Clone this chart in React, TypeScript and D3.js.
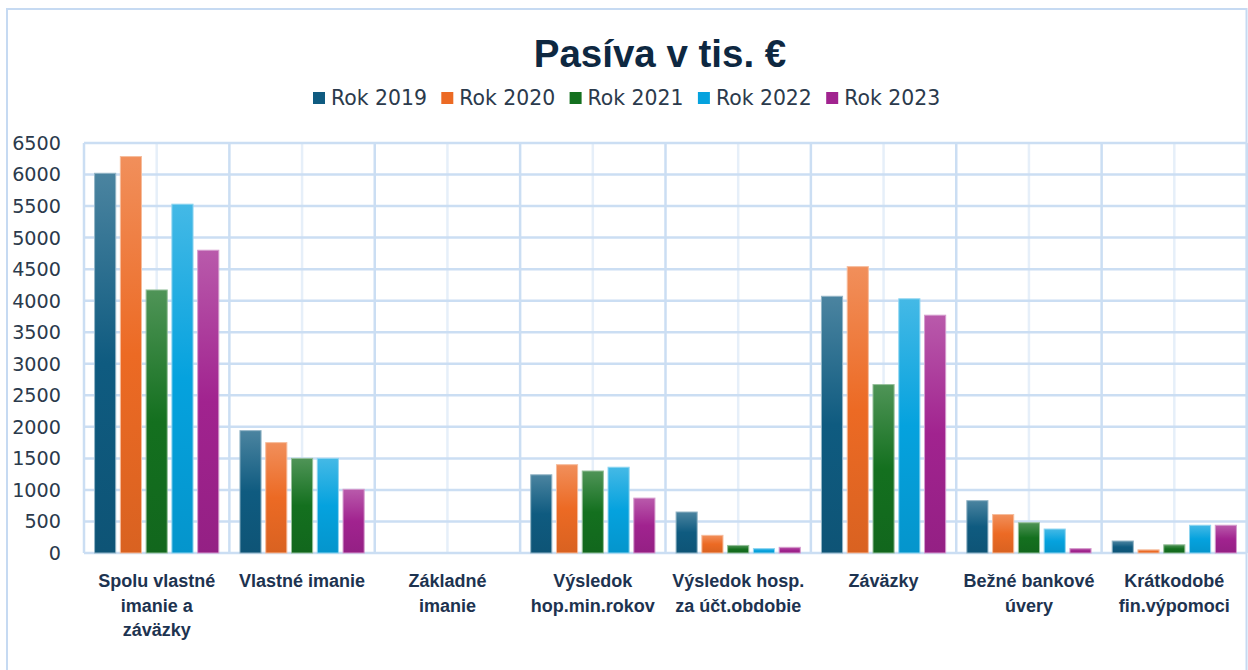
import React, { useEffect, useRef } from 'react';
import * as d3 from 'd3';

// Chart data (tis. €)
const categories = [
  'Spolu vlastné imanie a záväzky',
  'Vlastné imanie',
  'Základné imanie',
  'Výsledok hop.min.rokov',
  'Výsledok hosp. za účt.obdobie',
  'Záväzky',
  'Bežné bankové úvery',
  'Krátkodobé fin.výpomoci',
];
// wrapped the way the category axis breaks them
const categoryLines = [
  ['Spolu vlastné', 'imanie a', 'záväzky'],
  ['Vlastné imanie'],
  ['Základné', 'imanie'],
  ['Výsledok', 'hop.min.rokov'],
  ['Výsledok hosp.', 'za účt.obdobie'],
  ['Záväzky'],
  ['Bežné bankové', 'úvery'],
  ['Krátkodobé', 'fin.výpomoci'],
];
const seriesNames = ['Rok 2019', 'Rok 2020', 'Rok 2021', 'Rok 2022', 'Rok 2023'];
const rok2019 = [6020, 1940, 0, 1240, 650, 4070, 830, 190];
const rok2020 = [6285, 1750, 0, 1400, 280, 4540, 610, 50];
const rok2021 = [4170, 1500, 0, 1300, 120, 2670, 480, 130];
const rok2022 = [5530, 1500, 0, 1360, 70, 4030, 380, 440];
const rok2023 = [4800, 1010, 0, 870, 90, 3770, 70, 440];
const seriesValues = [rok2019, rok2020, rok2021, rok2022, rok2023];
const yTicks = [0, 500, 1000, 1500, 2000, 2500, 3000, 3500, 4000, 4500, 5000, 5500, 6000, 6500];

const seriesColors = ['#0f5b80', '#ec6a24', '#14701f', '#05a2de', '#a1238f'];

const WIDTH = 1248;
const HEIGHT = 670;
const margin = { top: 143, right: 1, bottom: 117, left: 84 };

const App: React.FC = () => {
  const svgRef = useRef<SVGSVGElement>(null);

  useEffect(() => {
    if (!svgRef.current) return;
    const svg = d3.select(svgRef.current);
    svg.selectAll('*').remove();

    const innerW = WIDTH - margin.left - margin.right;
    const innerH = HEIGHT - margin.top - margin.bottom;

    const x0 = d3.scaleBand<string>()
      .domain(categories)
      .range([margin.left, margin.left + innerW])
      .paddingInner(0)
      .paddingOuter(0);

    const x1 = d3.scaleBand<string>()
      .domain(seriesNames)
      .range([0, x0.bandwidth()])
      .paddingInner(0.18)
      .paddingOuter(0.41);

    const y = d3.scaleLinear()
      .domain([0, 6500])
      .range([margin.top + innerH, margin.top]);

    // frame
    svg.append('rect')
      .attr('x', 7)
      .attr('y', 9)
      .attr('width', 1239.5)
      .attr('height', 680)
      .attr('fill', '#ffffff')
      .attr('stroke', '#c6daf2')
      .attr('stroke-width', 2);

    // gradients per series
    const defs = svg.append('defs');
    seriesColors.forEach((c, i) => {
      const g = defs.append('linearGradient')
        .attr('id', `bar-grad-${i}`)
        .attr('x1', '0%').attr('y1', '0%')
        .attr('x2', '0%').attr('y2', '100%');
      g.append('stop').attr('offset', '0%').attr('stop-color', d3.interpolateRgb(c, '#ffffff')(0.25));
      g.append('stop').attr('offset', '50%').attr('stop-color', c);
      g.append('stop').attr('offset', '100%').attr('stop-color', d3.interpolateRgb(c, '#000000')(0.08));
    });

    // vertical mid lines (lighter)
    svg.append('g')
      .selectAll('line')
      .data(categories)
      .join('line')
      .attr('x1', d => (x0(d) ?? 0) + x0.bandwidth() / 2)
      .attr('x2', d => (x0(d) ?? 0) + x0.bandwidth() / 2)
      .attr('y1', margin.top)
      .attr('y2', margin.top + innerH)
      .attr('stroke', '#e6eff9')
      .attr('stroke-width', 2.5);

    // horizontal grid
    svg.append('g')
      .selectAll('line')
      .data(yTicks)
      .join('line')
      .attr('x1', margin.left)
      .attr('x2', margin.left + innerW)
      .attr('y1', d => y(d))
      .attr('y2', d => y(d))
      .attr('stroke', '#cbdef3')
      .attr('stroke-width', 2.5);

    // category separators
    const seps = categories.map(c => x0(c) ?? 0).concat([margin.left + innerW]);
    svg.append('g')
      .selectAll('line')
      .data(seps)
      .join('line')
      .attr('x1', d => d)
      .attr('x2', d => d)
      .attr('y1', margin.top)
      .attr('y2', margin.top + innerH)
      .attr('stroke', '#cbdef3')
      .attr('stroke-width', 2.5);

    // bars
    const groups = svg.append('g')
      .selectAll('g')
      .data(categories)
      .join('g')
      .attr('transform', d => `translate(${x0(d)},0)`);

    groups.selectAll('rect')
      .data((_, ci) => seriesNames.map((s, si) => ({ s, si, v: seriesValues[si][ci] })))
      .join('rect')
      .filter(d => d.v > 0)
      .attr('x', d => x1(d.s) ?? 0)
      .attr('y', d => y(d.v))
      .attr('width', x1.bandwidth())
      .attr('height', d => y(0) - y(d.v))
      .attr('fill', d => `url(#bar-grad-${d.si})`)
      .attr('stroke', d => d3.interpolateRgb(seriesColors[d.si], '#ffffff')(0.55))
      .attr('stroke-width', 1);

    // y axis labels
    svg.append('g')
      .selectAll('text')
      .data(yTicks)
      .join('text')
      .attr('x', 61)
      .attr('y', d => y(d))
      .attr('dy', '0.36em')
      .attr('text-anchor', 'end')
      .attr('font-family', '"DejaVu Sans", sans-serif')
      .attr('font-size', 19.2)
      .attr('fill', '#2b3a4c')
      .text(d => String(d));

    // category labels
    const lab = svg.append('g')
      .selectAll('text')
      .data(categories)
      .join('text')
      .attr('text-anchor', 'middle')
      .attr('font-family', '"Liberation Sans", Arial, sans-serif')
      .attr('font-weight', 'bold')
      .attr('font-size', 18)
      .attr('fill', '#1d3350');
    lab.each(function (d, i) {
      const t = d3.select(this);
      categoryLines[i].forEach((line, li) => {
        t.append('tspan')
          .attr('x', (x0(d) ?? 0) + x0.bandwidth() / 2)
          .attr('y', 587 + li * 24.5)
          .text(line);
      });
    });

    // title
    svg.append('text')
      .attr('x', 660)
      .attr('y', 67)
      .attr('text-anchor', 'middle')
      .attr('font-family', '"Liberation Sans", Arial, sans-serif')
      .attr('font-weight', 'bold')
      .attr('font-size', 38.5)
      .attr('fill', '#0e2841')
      .text('Pasíva v tis. €');

    // legend
    const legend = svg.append('g')
      .selectAll('g')
      .data(seriesNames)
      .join('g')
      .attr('transform', (_, i) => `translate(${313 + i * 128.3},98)`);
    legend.append('rect')
      .attr('x', 0)
      .attr('y', -6)
      .attr('width', 12)
      .attr('height', 12)
      .attr('fill', (_, i) => seriesColors[i]);
    legend.append('text')
      .attr('x', 18)
      .attr('y', 0)
      .attr('dy', '0.36em')
      .attr('font-family', '"DejaVu Sans", sans-serif')
      .attr('font-size', 20.4)
      .attr('fill', '#2b3a4c')
      .text(d => d);
  }, []);

  return (
    <div style={{ position: 'absolute', left: 0, top: 0, width: WIDTH, height: HEIGHT, overflow: 'hidden', background: '#fff' }}>
      <svg ref={svgRef} width={WIDTH} height={HEIGHT} viewBox={`0 0 ${WIDTH} ${HEIGHT}`} />
    </div>
  );
};

export default App;
